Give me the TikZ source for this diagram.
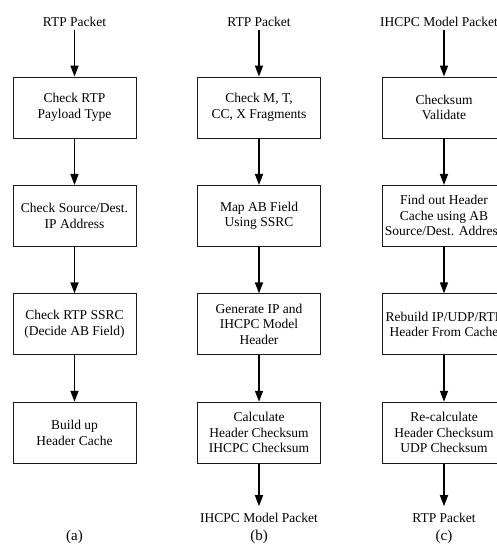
\documentclass[tikz,border=0pt]{standalone}
\usepackage{fontspec}
\setmainfont{Liberation Serif}
\usetikzlibrary{positioning,arrows.meta}

\begin{document}
\begin{tikzpicture} [x=1pt, y=-1pt,
		every node/.style={font=\fontsize{13.5}{15.5}\selectfont, align=center, inner sep=1mm},
		stage/.style={draw=black!90, line width=0.9pt, minimum width=123pt, minimum height=61pt, inner sep=0pt},
		tag/.style={font=\fontsize{15}{17}\selectfont},
		flow/.style={-{Triangle[length=11pt,width=8pt]}, line width=1.6pt},
		node distance=46.5pt
	]
	\useasboundingbox (0,0) rectangle (497,547);
	\clip (0,0) rectangle (497,547);

	\node (inA) at (74.5,22) {RTP Packet};
	\node (chkPT) [stage] at (74.5,107.5) {Check RTP\\Payload Type};
	\node (chkAddr) [stage, below=of chkPT] {Check Source/Dest.\\IP Address};
	\node (chkSSRC) [stage, below=of chkAddr] {Check RTP SSRC\\(Decide AB Field)};
	\node (buildCache) [stage, below=of chkSSRC] {Build up\\Header Cache};
	\node (tagA) [tag] at (74.5,537) {(a)};

	\node (inB) at (259,22) {RTP Packet};
	\node (chkFrag) [stage] at (259,107.5) {Check M, T,\\CC, X Fragments};
	\node (mapAB) [stage, below=of chkFrag] {Map AB Field\\Using SSRC};
	\node (genHdr) [stage, below=of mapAB] {Generate IP and\\IHCPC Model\\Header};
	\node (calcSum) [stage, below=of genHdr] {Calculate\\Header Checksum\\IHCPC Checksum};
	\node (outB) at (259,518) {IHCPC Model Packet};
	\node (tagB) [tag] at (259,537) {(b)};

	\node (inC) at (439,22) {IHCPC Model Packet};
	\node (validate) [stage] at (444,107.5) {Checksum\\Validate};
	\node (findCache) [stage, below=of validate] {Find out Header\\Cache using AB\\Source/Dest. Address};
	\node (rebuild) [stage, below=of findCache] {Rebuild IP/UDP/RTP\\Header From Cache};
	\node (recalc) [stage, below=of rebuild] {Re-calculate\\Header Checksum\\UDP Checksum};
	\node (outC) at (444,518) {RTP Packet};
	\node (tagC) [tag] at (444,537) {(c)};

	\draw [flow] (inA) -- (chkPT);
	\draw [flow] (chkPT) -- (chkAddr);
	\draw [flow] (chkAddr) -- (chkSSRC);
	\draw [flow] (chkSSRC) -- (buildCache);

	\draw [flow] (inB) -- (chkFrag);
	\draw [flow] (chkFrag) -- (mapAB);
	\draw [flow] (mapAB) -- (genHdr);
	\draw [flow] (genHdr) -- (calcSum);
	\draw [flow, shorten >=4pt] (calcSum) -- (outB);

	\draw [flow] (inC.south -| validate) -- (validate);
	\draw [flow] (validate) -- (findCache);
	\draw [flow] (findCache) -- (rebuild);
	\draw [flow] (rebuild) -- (recalc);
	\draw [flow, shorten >=4pt] (recalc) -- (outC);

\end{tikzpicture}
\end{document}
